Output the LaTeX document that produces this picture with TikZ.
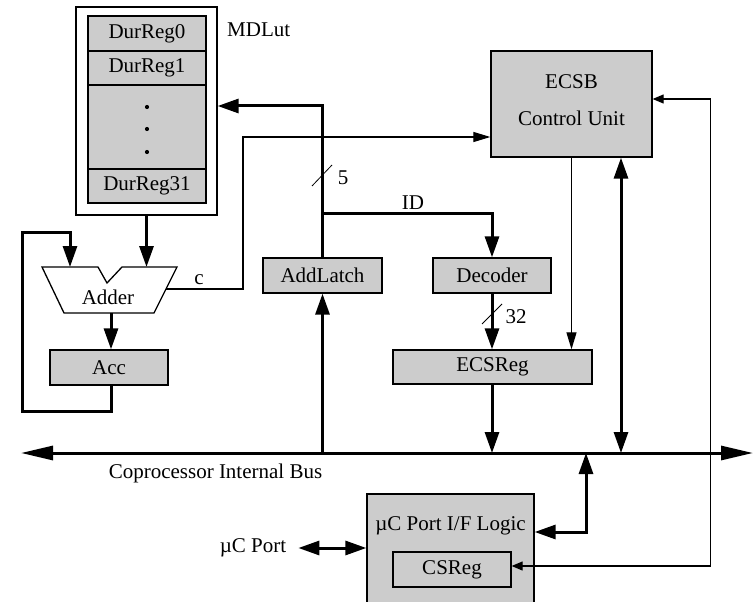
\documentclass[tikz,border=0pt]{standalone}
\usepackage{fontspec}
\setmainfont{Liberation Serif}
\usetikzlibrary{arrows.meta}
\definecolor{boxgray}{HTML}{CCCCCC}
\tikzset{
  reg/.style={draw, line width=1.3pt, fill=boxgray, inner sep=0pt, minimum width=118pt, minimum height=35pt},
  txt/.style={inner sep=0pt},
  thk/.style={line width=3pt},
  thn/.style={line width=1.2pt},
  big/.tip={Triangle[length=21pt,width=14pt]},
  busend/.tip={Triangle[length=32pt,width=14pt]},
  longthin/.tip={Triangle[length=17pt,width=10pt]},
  shortthin/.tip={Triangle[length=11pt,width=9pt]},
}
\begin{document}
\begin{tikzpicture}[x=1pt, y=-1pt, font=\fontsize{21}{25}\selectfont]
\useasboundingbox (0,0) rectangle (753,602);

% MDLut register file
\node[draw, line width=1.3pt, fill=white, minimum width=141pt, minimum height=208pt] (mdlut) at (146.5,111) {};
\node[reg] (d0) at (147,33.5) {DurReg0};
\node[reg, minimum height=34pt] (d1) at (147,68) {DurReg1};
\node[reg, minimum height=84pt] (dmid) at (147,127) {};
\node[reg, minimum height=34pt] (d31) at (147,186) {DurReg31};
\foreach \yy in {107,129,152} \fill (147,\yy) circle (2.1pt);
\node[txt, anchor=west] (mdlabel) at (227,30) {MDLut};

% control unit
\node[draw, line width=1.3pt, fill=boxgray, minimum width=161pt, minimum height=106pt] (ecsb) at (571.5,104) {};
\node[txt] (ecsbt1) at (571.5,82) {ECSB};
\node[txt] (ecsbt2) at (571.5,118) {Control Unit};

% registers and latches
\node[reg, minimum width=119pt] (addlatch) at (322.5,275.5) {AddLatch};
\node[reg] (decoder) at (492,275.5) {Decoder};
\node[reg, minimum width=199pt, minimum height=34pt] (ecsreg) at (492.5,367) {ECSReg};
\node[reg] (acc) at (109,367.5) {Acc};

% port interface logic
\node[draw, line width=1.3pt, fill=boxgray, minimum width=167pt, minimum height=112pt] (ucbox) at (450.5,550) {};
\node[txt] (uctext) at (450.5,526) {µC Port I/F Logic};
\node[reg] (csreg) at (452,569.5) {CSReg};
\node[txt] (ucport) at (253,548) {µC Port};

% adder
\draw[line width=1.3pt, fill=white] (42,267) -- (98,267) -- (107,283) -- (122,267) -- (177,267) -- (154,313) -- (64,313) -- cycle;
\node[txt] (addlabel) at (108,297) {Adder};
\coordinate (addinL) at (70,267);
\coordinate (addinR) at (146.5,267);
\coordinate (addout) at (111,313);
\coordinate (addc) at (166,289);

% bus
\coordinate (busL) at (21,453);
\coordinate (busR) at (753,453);
\coordinate (bj) at (586,453);
\draw[thk, {busend}-{busend}] (busL) -- (busR);
\node[txt] (buslabel) at (215.5,473) {Coprocessor Internal Bus};

% address path
\draw[thk, -{big}] (addlatch.north) |- ([yshift=5pt]mdlut.east);
\coordinate (idj) at (322.5,213);
\draw[thk, -{big}] (idj) -| (decoder.north);
\draw[thn, line width=0.8pt] (312,186) -- (332,165);
\node[txt] (five) at (343,178) {5};
\node[txt] (idlabel) at (413,203) {ID};

\draw[thk, -{big}] (decoder.south) -- (decoder.south |- ecsreg.north);
\draw[thn, line width=0.8pt] (482,324) -- (502,304);
\node[txt] (n32) at (516,317) {32};
\draw[thk, -{big}] (decoder.south |- ecsreg.south) -- (decoder.south |- busL);
\draw[thk, -{big}] (addlatch.south |- busL) -- (addlatch.south);

% control unit connections
\draw[thk, {big}-{big}] ([xshift=49.5pt]ecsb.south) -- ([xshift=49.5pt]ecsb.south |- busL);
\draw[thn, -{longthin}] (ecsb.south) -- (ecsb.south |- ecsreg.north);
\draw[thn, {shortthin}-{shortthin}] ([yshift=5pt]ecsb.east) -- ++(58,0) |- ([yshift=3.5pt]csreg.east);
\draw[thn, -{longthin}] (addc) -- ++(77,0) |- ([yshift=-33pt]ecsb.west);
\node[txt] (clabel) at (199,280) {c};

% adder datapath
\draw[thk, -{big}] (mdlut.south) -- (addinR);
\draw[thk, -{big}] (addout) -- (addout |- acc.north);
\draw[thk, -{big}] (addout |- acc.south) -- ++(0,26) -| ++(-89,-179) -| (addinL);

% port connections
\draw[thk, {big}-{big}] ([xshift=12pt]ucport.east) -- (ucport.east -| ucbox.west);
\draw[thk, {big}-{big}] (bj) |- ([yshift=18pt]ucbox.east);
\end{tikzpicture}
\end{document}
